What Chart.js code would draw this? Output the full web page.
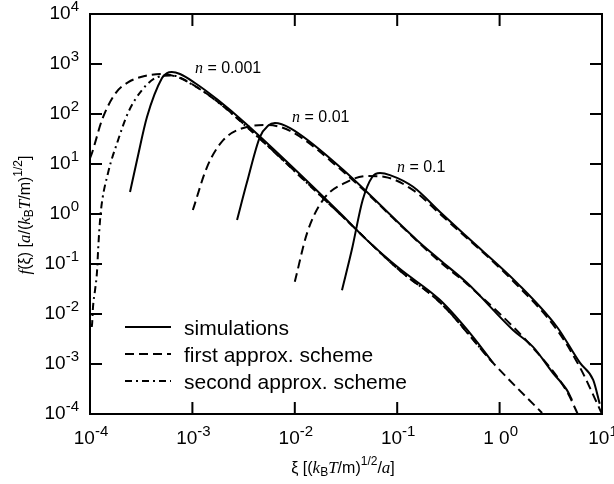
<!DOCTYPE html>
<html>
<head>
<meta charset="utf-8">
<script src="https://cdn.jsdelivr.net/npm/chart.js@4"></script>
<style>
  body { margin: 0; background: #fff; }
</style>
</head>
<body>
<canvas id="fchart" width="614" height="484"></canvas>
<script>
// n = 0.001
var sim001X = [2.46e-4, 2.88e-4, 3.6e-4, 5.05e-4, 5.65e-4, 6.3e-4, 7.57e-4, 1.06e-3, 1.78e-3, 3.27e-3, 0.0276, 0.0507, 0.106, 0.262, 0.55, 0.863];
var sim001Y = [2.75, 12, 87, 525, 660, 690, 630, 417, 190, 66, 1.05, 0.30, 0.080, 0.019, 3.5e-3, 1.05e-3];
var first001X = [1e-4, 1.05e-4, 1.31e-4, 1.75e-4, 2.35e-4, 3.44e-4, 5.05e-4, 7.57e-4, 1.06e-3, 1.78e-3, 3.27e-3, 0.0276, 0.106, 0.262, 0.863, 2.6];
var first001Y = [13, 17, 76, 250, 430, 575, 630, 525, 363, 174, 60, 1.0, 0.074, 0.017, 1.05e-3, 1.05e-4];
var second001X = [1.04e-4, 1.05e-4, 1.07e-4, 1.12e-4, 1.17e-4, 1.2e-4, 1.23e-4, 1.28e-4, 1.5e-4, 1.88e-4, 2.35e-4, 3.22e-4, 4.6e-4, 6.3e-4, 1.06e-3, 1.78e-3, 3.27e-3, 0.0276, 0.106, 0.262, 0.863];
var second001Y = [5.5e-3, 6.6e-3, 0.0138, 0.030, 0.069, 0.19, 0.44, 1.2, 6.6, 30, 105, 302, 550, 590, 360, 172, 59, 1.0, 0.074, 0.017, 1.05e-3];

// n = 0.01
var sim01X = [2.73e-3, 3.4e-3, 4.57e-3, 5.47e-3, 6.4e-3, 9e-3, 0.0276, 0.156, 0.262, 0.48, 1.35, 2.12, 3.32, 4.55, 5.1];
var sim01Y = [0.76, 4.2, 35, 58, 66, 52, 8.7, 0.30, 0.12, 0.042, 4.8e-3, 2.2e-3, 6.6e-4, 3e-4, 1.9e-4];
var first01X = [1.01e-3, 1.39e-3, 2e-3, 3.4e-3, 5.4e-3, 9e-3, 0.0276, 0.262, 0.48, 2.12, 4.55, 5.8];
var first01Y = [1.2, 8.7, 30, 55, 60, 46, 8.0, 0.11, 0.04, 2.1e-3, 2.8e-4, 1e-4];

// n = 0.1
var sim1X = [0.0289, 0.036, 0.046, 0.057, 0.068, 0.085, 0.143, 0.262, 0.48, 1.48, 3.64, 6.1, 8.2, 9.5];
var sim1Y = [0.030, 0.19, 1.9, 5.5, 6.6, 6.0, 3.5, 1.1, 0.35, 0.042, 5.5e-3, 1.05e-3, 4.8e-4, 1.6e-4];
var first1X = [0.01, 0.0132, 0.0188, 0.0324, 0.051, 0.076, 0.143, 0.262, 1.48, 3.64, 6.1, 10];
var first1Y = [0.044, 0.42, 1.9, 4.4, 5.75, 5.5, 3.0, 1.0, 0.038, 4.8e-3, 8.5e-4, 1e-4];

// axes
var xTicks = [1e-4, 1e-3, 1e-2, 1e-1, 1, 10];
var xTickBase = ['10', '10', '10', '10', '1 0', '10'];
var xTickExp = ['-4', '-3', '-2', '-1', '0', '1'];
var yTicks = [1e-4, 1e-3, 1e-2, 1e-1, 1, 10, 100, 1000, 10000];
var yTickExp = ['-4', '-3', '-2', '-1', '0', '1', '2', '3', '4'];

var legendText = ['simulations', 'first approx. scheme', 'second approx. scheme'];
var curveLabel = ['0.001', '0.01', '0.1'];
var curveLabelX = [1.06e-3, 9.4e-3, 0.0995];
var curveLabelY = [660, 69, 6.9];

var SANS = '"Liberation Sans", Arial, sans-serif';
var SERIF = '"Liberation Serif", "Times New Roman", serif';

var solid = [];
var dashed = [9, 5];
var dashdot = [7, 4, 2, 4];

function pts(xs, ys) {
    var out = [];
    for (var i = 0; i < xs.length; i++) out.push({x: xs[i], y: ys[i]});
    return out;
}

function line(xs, ys, dash) {
    return {
        data: pts(xs, ys),
        borderColor: '#000',
        borderWidth: 2,
        borderDash: dash,
        pointRadius: 0,
        fill: false,
        cubicInterpolationMode: 'monotone'
    };
}

function runsWidth(ctx, runs) {
    var w = 0;
    runs.forEach(function (r) { ctx.font = r.font; w += ctx.measureText(r.t).width; });
    return w;
}

function drawRuns(ctx, runs, x, y) {
    runs.forEach(function (r) {
        ctx.font = r.font;
        ctx.fillText(r.t, x, y + (r.dy || 0));
        x += ctx.measureText(r.t).width;
    });
}

var decor = {
    id: 'decor',
    afterDatasetsDraw: function (chart) {
        var ctx = chart.ctx, a = chart.chartArea;
        var xs = chart.scales.x, ys = chart.scales.y;
        ctx.save();
        ctx.strokeStyle = '#000';
        ctx.fillStyle = '#000';
        ctx.lineWidth = 2;
        ctx.setLineDash([]);
        ctx.strokeRect(a.left, a.top, a.right - a.left, a.bottom - a.top);

        // inward ticks on all four sides
        ctx.beginPath();
        xTicks.forEach(function (v) {
            var px = xs.getPixelForValue(v);
            ctx.moveTo(px, a.bottom); ctx.lineTo(px, a.bottom - 12);
            ctx.moveTo(px, a.top); ctx.lineTo(px, a.top + 12);
        });
        yTicks.forEach(function (v) {
            var py = ys.getPixelForValue(v);
            ctx.moveTo(a.left, py); ctx.lineTo(a.left + 12, py);
            ctx.moveTo(a.right, py); ctx.lineTo(a.right - 12, py);
        });
        ctx.stroke();

        // tick labels with superscripts
        ctx.textAlign = 'left';
        ctx.textBaseline = 'alphabetic';
        var bF = '19px ' + SANS, eF = '15px ' + SANS;
        xTicks.forEach(function (v, i) {
            var runs = [{t: xTickBase[i], font: bF}, {t: xTickExp[i], font: eF, dy: -8}];
            var w = runsWidth(ctx, runs);
            drawRuns(ctx, runs, xs.getPixelForValue(v) - w / 2 + 1, a.bottom + 30);
        });
        yTicks.forEach(function (v, i) {
            var runs = [{t: '10', font: bF}, {t: yTickExp[i], font: eF, dy: -8}];
            var w = runsWidth(ctx, runs);
            drawRuns(ctx, runs, 79 - w, ys.getPixelForValue(v) + 5);
        });

        // curve labels
        curveLabel.forEach(function (s, i) {
            var runs = [{t: 'n', font: 'italic 16px ' + SERIF}, {t: ' = ' + s, font: '16px ' + SANS}];
            drawRuns(ctx, runs, xs.getPixelForValue(curveLabelX[i]), ys.getPixelForValue(curveLabelY[i]));
        });

        // legend
        var styles = [chart.data.datasets[0], chart.data.datasets[1], chart.data.datasets[2]];
        legendText.forEach(function (s, i) {
            var ly = 327 + i * 27;
            ctx.lineWidth = 2;
            ctx.setLineDash(styles[i].borderDash);
            ctx.beginPath();
            ctx.moveTo(125, ly); ctx.lineTo(171, ly);
            ctx.stroke();
            ctx.setLineDash([]);
            ctx.font = '21px ' + SANS;
            ctx.fillText(s, 184, ly + 8);
        });

        // x axis title
        var tF = '16px ' + SANS, iF = 'italic 17px ' + SERIF, sF = '12px ' + SANS;
        var xt = [
            {t: 'ξ [(', font: tF}, {t: 'k', font: iF}, {t: 'B', font: sF, dy: 3},
            {t: 'T', font: iF}, {t: '/m)', font: tF}, {t: '1/2', font: sF, dy: -8},
            {t: '/', font: tF}, {t: 'a', font: iF}, {t: ']', font: tF}
        ];
        var xw = runsWidth(ctx, xt);
        drawRuns(ctx, xt, 343 - xw / 2, 473);

        // y axis title
        var yt = [
            {t: 'f', font: iF}, {t: '(ξ) [', font: tF}, {t: 'a', font: iF}, {t: '/(', font: tF},
            {t: 'k', font: iF}, {t: 'B', font: sF, dy: 3}, {t: 'T', font: iF},
            {t: '/m)', font: tF}, {t: '1/2', font: sF, dy: -8}, {t: ']', font: tF}
        ];
        var yw = runsWidth(ctx, yt);
        ctx.translate(30, 215);
        ctx.rotate(-Math.PI / 2);
        drawRuns(ctx, yt, -yw / 2, 0);
        ctx.restore();
    }
};

var ctx = document.getElementById('fchart').getContext('2d');
var fchart = new Chart(ctx, {
    type: 'line',
    data: {
        datasets: [
            line(sim001X, sim001Y, solid),
            line(first001X, first001Y, dashed),
            line(second001X, second001Y, dashdot),
            line(sim01X, sim01Y, solid),
            line(first01X, first01Y, dashed),
            line(sim1X, sim1Y, solid),
            line(first1X, first1Y, dashed)
        ]
    },
    options: {
        responsive: false,
        animation: false,
        layout: {
            padding: {left: 90, right: 12, top: 14, bottom: 70}
        },
        plugins: {
            legend: {display: false},
            tooltip: {enabled: false}
        },
        scales: {
            x: {type: 'logarithmic', min: 1e-4, max: 10, display: false},
            y: {type: 'logarithmic', min: 1e-4, max: 1e4, display: false}
        }
    },
    plugins: [decor]
});
</script>
</body>
</html>
